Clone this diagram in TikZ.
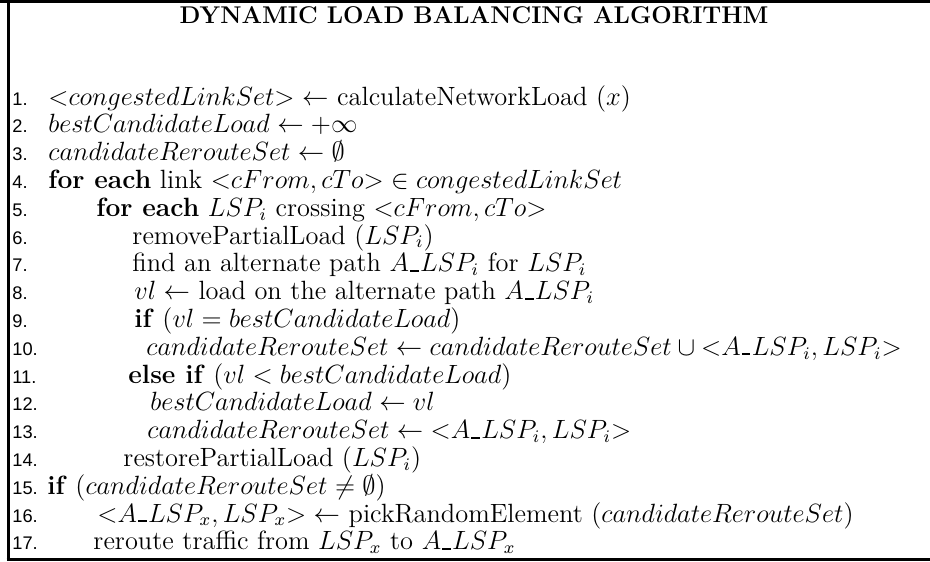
\documentclass[tikz,border=0pt]{standalone}
\usepackage{fontspec}
\newfontfamily\numfont{Liberation Sans}
% short low bar between A and LSP
\newcommand\ubar{\kern.05em\rule{.32em}{.07em}\kern.05em}
\begin{document}
\begin{tikzpicture}[x=0.4545pt,y=-0.4545pt,
    lineno/.style={anchor=base west,inner sep=0pt,font=\numfont\fontsize{8.3}{9}\selectfont},
    code/.style={anchor=base west,inner sep=0pt,text height=.7em,text depth=.2em,
      font=\fontsize{12}{13}\selectfont},
    heading/.style={anchor=base,inner sep=0pt,font=\bfseries\fontsize{11}{13}\selectfont}]
    \useasboundingbox (0,0) rectangle (930,561);

    % frame: top, left and bottom rules
    \draw[line width=1.3pt] (0,1.3)--(930,1.3);
    \draw[line width=1.5pt] (8.3,0)--(8.3,561);
    \draw[line width=1.4pt] (6.6,559.5)--(930,559.5);

    \node[heading] (title) at (474,24) {DYNAMIC LOAD BALANCING ALGORITHM};

    % one numbered line: #1 number, #2 indent, #3 text
    \newcommand\algline{}
    \def\algline#1#2#3{%
      \pgfmathparse{105+(#1-1)*27.8}
      \edef\y{\pgfmathresult}
      \node[lineno] (n#1) at (12,\y) {#1.};
      \node[code] (c#1) at (#2,\y) {#3};
    }

    \algline{1}{48}{${<}congestedLinkSet{>} \leftarrow$ calculateNetworkLoad $(x)$}
    \algline{2}{48}{$bestCandidateLoad \leftarrow +\infty$}
    \algline{3}{48}{$candidateRerouteSet \leftarrow \emptyset$}
    \algline{4}{48}{\textbf{for each} link ${<}cFrom, cTo{>} \in congestedLinkSet$}
    \algline{5}{96}{\textbf{for each} $LSP_i$ crossing ${<}cFrom, cTo{>}$}
    \algline{6}{132}{removePartialLoad $(LSP_i)$}
    \algline{7}{132}{find an alternate path $A\ubar LSP_i$ for $LSP_i$}
    \algline{8}{134}{$vl \leftarrow$ load on the alternate path $A\ubar LSP_i$}
    \algline{9}{134}{\textbf{if} $(vl = bestCandidateLoad)$}
    \algline{10}{146}{$candidateRerouteSet \leftarrow candidateRerouteSet \cup {<}A\ubar LSP_i, LSP_i{>}$}
    \algline{11}{128}{\textbf{else if} $(vl < bestCandidateLoad)$}
    \algline{12}{150}{$bestCandidateLoad \leftarrow vl$}
    \algline{13}{147}{$candidateRerouteSet \leftarrow {<}A\ubar LSP_i, LSP_i{>}$}
    \algline{14}{123}{restorePartialLoad $(LSP_i)$}
    \algline{15}{47}{\textbf{if} $(candidateRerouteSet \neq \emptyset)$}
    \algline{16}{97}{${<}A\ubar LSP_x, LSP_x{>} \leftarrow$ pickRandomElement $(candidateRerouteSet)$}
    \algline{17}{93}{reroute traffic from $LSP_x$ to $A\ubar LSP_x$}

  \end{tikzpicture}
\end{document}
